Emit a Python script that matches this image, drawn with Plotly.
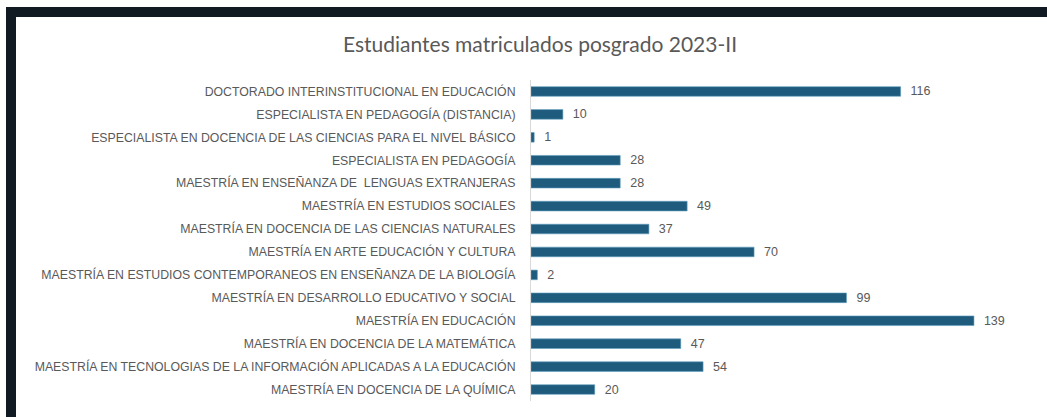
import plotly.graph_objects as go

categories = [
    "DOCTORADO INTERINSTITUCIONAL EN EDUCACIÓN",
    "ESPECIALISTA EN PEDAGOGÍA (DISTANCIA)",
    "ESPECIALISTA EN DOCENCIA DE LAS CIENCIAS PARA EL NIVEL BÁSICO",
    "ESPECIALISTA EN PEDAGOGÍA",
    "MAESTRÍA EN ENSEÑANZA DE  LENGUAS EXTRANJERAS",
    "MAESTRÍA EN ESTUDIOS SOCIALES",
    "MAESTRÍA EN DOCENCIA DE LAS CIENCIAS NATURALES",
    "MAESTRÍA EN ARTE EDUCACIÓN Y CULTURA",
    "MAESTRÍA EN ESTUDIOS CONTEMPORANEOS EN ENSEÑANZA DE LA BIOLOGÍA",
    "MAESTRÍA EN DESARROLLO EDUCATIVO Y SOCIAL",
    "MAESTRÍA EN EDUCACIÓN",
    "MAESTRÍA EN DOCENCIA DE LA MATEMÁTICA",
    "MAESTRÍA EN TECNOLOGIAS DE LA INFORMACIÓN APLICADAS A LA EDUCACIÓN",
    "MAESTRÍA EN DOCENCIA DE LA QUÍMICA",
]
values = [116, 10, 1, 28, 28, 49, 37, 70, 2, 99, 139, 47, 54, 20]
title_text = "Estudiantes matriculados posgrado 2023-II"

W, H = 1047, 417
ML, MR, MT, MB = 531, 38, 80, 16
PW, PH = W - ML - MR, H - MT - MB

def px_x(p):
    return (p - ML) / PW

def px_y(p):
    return 1 - (p - MT) / PH

fig = go.Figure(go.Bar(
    x=values,
    y=categories,
    orientation="h",
    marker=dict(color="#1f5b7d", line=dict(color="#5f9fc0", width=0.6)),
    width=0.42,
    text=values,
    texttemplate="  %{x}",
    textposition="outside",
    constraintext="none",
    textfont=dict(family="Liberation Sans, Arial, sans-serif", size=12.5, color="#595959"),
    cliponaxis=False,
    hoverinfo="skip",
))

dark = "#111a22"
shapes = [
    dict(type="rect", xref="paper", yref="paper",
         x0=px_x(6), x1=px_x(1047), y0=px_y(17), y1=px_y(7),
         fillcolor=dark, line=dict(width=0), layer="above"),
    dict(type="rect", xref="paper", yref="paper",
         x0=px_x(6), x1=px_x(16), y0=px_y(417), y1=px_y(7),
         fillcolor=dark, line=dict(width=0), layer="above"),
]

fig.update_layout(
    width=W, height=H,
    margin=dict(l=ML, r=MR, t=MT, b=MB, pad=0),
    paper_bgcolor="white",
    plot_bgcolor="white",
    showlegend=False,
    shapes=shapes,
    title=dict(
        text=title_text,
        x=540 / W, xref="container", xanchor="center",
        y=1 - 45 / H, yref="container", yanchor="middle",
        font=dict(family="Lato, Liberation Sans, sans-serif", size=21, color="#595959"),
    ),
    xaxis=dict(range=[0, 150], visible=False, fixedrange=True),
    yaxis=dict(
        autorange="reversed",
        showline=True, linecolor="#d9d9d9", linewidth=1,
        showgrid=False, zeroline=False, ticks="",
        ticklabelstandoff=12,
        tickfont=dict(family="Liberation Sans, Arial, sans-serif", size=12.3, color="#595959"),
        fixedrange=True,
    ),
    bargap=0.6,
)

fig.write_html(
    "out.html",
    config={"displayModeBar": False},
    post_script="document.body.style.margin='0';document.body.style.overflow='hidden';",
)
